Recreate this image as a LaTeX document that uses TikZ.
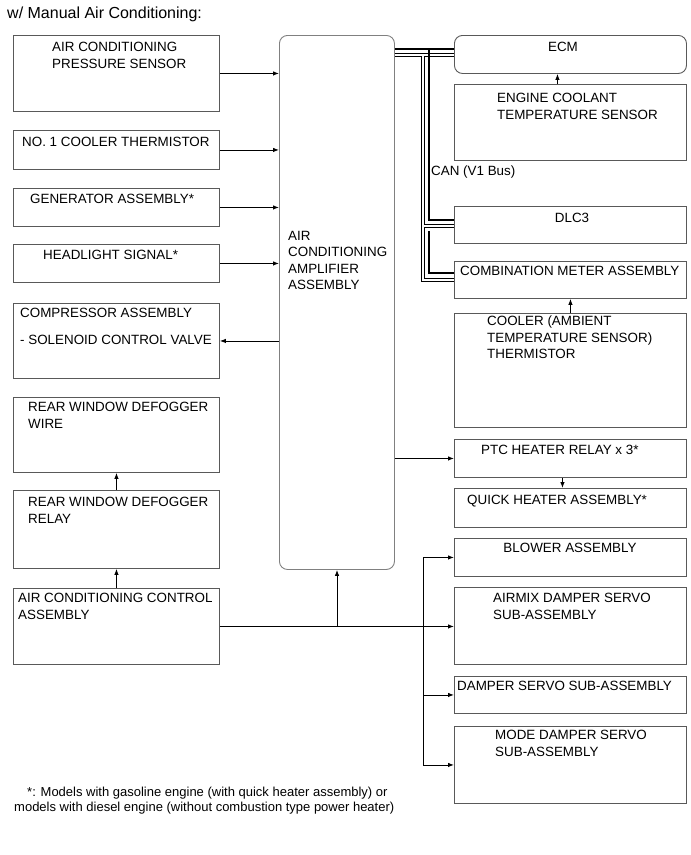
\documentclass[tikz,border=0pt]{standalone}
\usepackage{fontspec}
\setmainfont{Liberation Sans}
\usetikzlibrary{arrows.meta,calc}

\begin{document}
\begin{tikzpicture}[x=1pt, y=-1pt,
	box/.style={draw=black!65, line width=0.9pt, anchor=north west, inner sep=0pt},
	lbl/.style={anchor=north west, align=left, inner sep=0pt, font=\fontsize{13.4}{16.5}\selectfont},
	conn/.style={line width=0.9pt, -{Latex[length=6pt,width=4.5pt]}},
	wire/.style={line width=0.9pt},
	busthick/.style={line width=2.3pt},
	busouter/.style={line width=3.4pt},
	businner/.style={line width=1.8pt, white}]
	\useasboundingbox (0,0) rectangle (691,855);
	
	%title
	\node[lbl, font=\fontsize{16}{18}\selectfont] (title) at (7,6.5) {w/ Manual Air Conditioning:};
	
	%left column
	\node[box, minimum width=206pt, minimum height=76pt] (prs) at (13,35) {};
	\node[box, minimum width=206pt, minimum height=39pt] (thm) at (13,130) {};
	\node[box, minimum width=206pt, minimum height=38pt] (gen) at (13,188) {};
	\node[box, minimum width=206pt, minimum height=38pt] (hdl) at (13,244) {};
	\node[box, minimum width=206pt, minimum height=75pt] (cmp) at (13,303) {};
	\node[box, minimum width=206pt, minimum height=75pt] (dfw) at (13,397) {};
	\node[box, minimum width=206pt, minimum height=78pt] (dfr) at (13,490) {};
	\node[box, minimum width=206pt, minimum height=76pt] (ctl) at (13,588) {};
	\node[lbl] (prs-t) at (52,42) {AIR CONDITIONING\\PRESSURE SENSOR};
	\node[lbl] (thm-t) at (22,137) {NO. 1 COOLER THERMISTOR};
	\node[lbl] (gen-t) at (30,194) {GENERATOR ASSEMBLY*};
	\node[lbl] (hdl-t) at (43,250) {HEADLIGHT SIGNAL*};
	\node[lbl] (cmp-t) at (20,308) {COMPRESSOR ASSEMBLY\\[10.5pt]- SOLENOID CONTROL VALVE};
	\node[lbl] (dfw-t) at (28,402) {REAR WINDOW DEFOGGER\\WIRE};
	\node[lbl] (dfr-t) at (28,497) {REAR WINDOW DEFOGGER\\RELAY};
	\node[lbl] (ctl-t) at (18,593) {AIR CONDITIONING CONTROL\\ASSEMBLY};
	
	%amplifier
	\node[box, draw=black!50, rounded corners=8pt, minimum width=115pt, minimum height=534pt] (amp) at (279,35) {};
	\node[lbl] (amp-t) at (288,231) {AIR\\CONDITIONING\\AMPLIFIER\\ASSEMBLY};
	
	%right column
	\node[box, rounded corners=8pt, minimum width=232pt, minimum height=38pt] (ecm) at (454,35) {};
	\node[box, minimum width=232pt, minimum height=76pt] (ect) at (454,84) {};
	\node[box, minimum width=232pt, minimum height=37pt] (dlc) at (454,206) {};
	\node[box, minimum width=232pt, minimum height=37pt] (mtr) at (454,261) {};
	\node[box, minimum width=232pt, minimum height=114pt] (amb) at (454,313) {};
	\node[box, minimum width=232pt, minimum height=38pt] (ptc) at (454,439) {};
	\node[box, minimum width=232pt, minimum height=39pt] (qht) at (454,488) {};
	\node[box, minimum width=232pt, minimum height=38pt] (blw) at (454,538) {};
	\node[box, minimum width=232pt, minimum height=77pt] (amx) at (454,587) {};
	\node[box, minimum width=232pt, minimum height=37pt] (dmp) at (454,676) {};
	\node[box, minimum width=232pt, minimum height=77pt] (mod) at (454,726) {};
	\node[lbl, anchor=north] (ecm-t) at (563,42) {ECM};
	\node[lbl] (ect-t) at (497,93) {ENGINE COOLANT\\TEMPERATURE SENSOR};
	\node[lbl] (can-t) at (431,166) {CAN (V1 Bus)};
	\node[lbl, anchor=north] (dlc-t) at (572,213) {DLC3};
	\node[lbl] (mtr-t) at (460,266) {COMBINATION METER ASSEMBLY};
	\node[lbl] (amb-t) at (487,316) {COOLER (AMBIENT\\TEMPERATURE SENSOR)\\THERMISTOR};
	\node[lbl] (ptc-t) at (481,445) {PTC HEATER RELAY x 3*};
	\node[lbl] (qht-t) at (467,495) {QUICK HEATER ASSEMBLY*};
	\node[lbl, anchor=north] (blw-t) at (570,543) {BLOWER ASSEMBLY};
	\node[lbl] (amx-t) at (493,593) {AIRMIX DAMPER SERVO\\SUB-ASSEMBLY};
	\node[lbl] (dmp-t) at (457,681) {DAMPER SERVO SUB-ASSEMBLY};
	\node[lbl] (mod-t) at (495,730) {MODE DAMPER SERVO\\SUB-ASSEMBLY};
	
	%footnote
	\node[lbl, font=\fontsize{13}{15}\selectfont] (note1) at (27,787) {*: Models with gasoline engine (with quick heater assembly) or};
	\node[lbl, font=\fontsize{13}{15}\selectfont] (note2) at (14,802) {models with diesel engine (without combustion type power heater)};
	
	%inputs
	\draw[conn] (prs.east) -- (prs.east -| amp.west);
	\draw[conn] (thm.east) -- (thm.east -| amp.west);
	\draw[conn] (gen.east) -- (gen.east -| amp.west);
	\draw[conn] (hdl.east) -- (hdl.east -| amp.west);
	\draw[conn] (cmp.east -| amp.west) -- (cmp.east);
	\draw[conn] (dfr.north) -- (dfw.south);
	\draw[conn] (ctl.north) -- (dfr.south);
	
	%control lines
	\coordinate (br1) at (337,0);
	\coordinate (br2) at (423,0);
	\draw[conn] (ctl.east) -- (ctl.east -| amx.west);
	\draw[conn] (ctl.east -| br1) -- (amp.south -| br1);
	\draw[wire] (blw.west -| br2) -- (mod.west -| br2);
	\draw[conn] (blw.west -| br2) -- (blw.west);
	\draw[conn] (dmp.west -| br2) -- (dmp.west);
	\draw[conn] (mod.west -| br2) -- (mod.west);
	
	%outputs
	\draw[conn] (ptc.west -| amp.east) -- (ptc.west);
	\draw[conn] ([xshift=-8pt]ptc.south) -- ([xshift=-8pt]qht.north);
	\draw[conn] ([xshift=-13pt]ect.north) -- ([xshift=-13pt]ecm.south);
	\draw[conn] (amb.north) -- (mtr.south);
	
	%can bus
	\coordinate (busA) at (429,49);
	\coordinate (busB) at (423,55);
	\coordinate (dlcA) at (429,220);
	\coordinate (dlcB) at (423,226);
	\coordinate (mtrA0) at (429,231);
	\coordinate (mtrA) at (429,273);
	\coordinate (mtrB) at (423,280);
	\foreach \st in {busouter, businner} {
		\draw[\st] (amp.east |- busB) -- (ecm.west |- busB);
		\draw[\st] (busB) -- (mtrB) -- (mtrB -| mtr.west);
		\draw[\st] (dlcB) -- (dlcB -| dlc.west);
	}
	\draw[busthick] (amp.east |- busA) -- (ecm.west |- busA);
	\draw[busthick] (busA) -- (dlcA) -- (dlcA -| dlc.west);
	\draw[busthick] (mtrA0) -- (mtrA) -- (mtrA -| mtr.west);
\end{tikzpicture}
\end{document}
